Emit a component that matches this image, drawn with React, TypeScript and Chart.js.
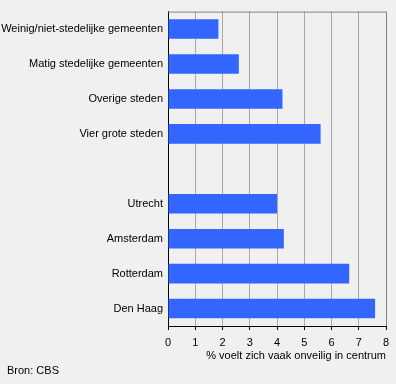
import React, { useEffect, useRef } from "react";
import { Chart, registerables } from "chart.js";

Chart.register(...registerables);

const categories: string[] = [
  "Weinig/niet-stedelijke gemeenten",
  "Matig stedelijke gemeenten",
  "Overige steden",
  "Vier grote steden",
  "",
  "Utrecht",
  "Amsterdam",
  "Rotterdam",
  "Den Haag",
];
const values: (number | null)[] = [1.85, 2.6, 4.2, 5.6, null, 4.0, 4.25, 6.65, 7.6];
const xTicks: number[] = [0, 1, 2, 3, 4, 5, 6, 7, 8];
const axisTitle = "% voelt zich vaak onveilig in centrum";
const sourceText = "Bron: CBS";

const FONT = "'Liberation Sans', Arial, sans-serif";

export default function App() {
  const ref = useRef<HTMLCanvasElement | null>(null);
  useEffect(() => {
    if (!ref.current) return;
    const framePlugin = {
      id: "frame",
      afterDatasetsDraw(chart: any) {
        const { ctx, chartArea } = chart;
        ctx.save();
        ctx.strokeStyle = "#808080";
        ctx.lineWidth = 1;
        ctx.beginPath();
        ctx.moveTo(chartArea.left, chartArea.top + 0.5);
        ctx.lineTo(chartArea.right + 0.5, chartArea.top + 0.5);
        ctx.lineTo(chartArea.right + 0.5, chartArea.bottom);
        ctx.stroke();
        ctx.restore();
      },
      afterDraw(chart: any) {
        const { ctx } = chart;
        ctx.save();
        ctx.fillStyle = "#000";
        ctx.font = `11px ${FONT}`;
        ctx.textAlign = "left";
        ctx.textBaseline = "alphabetic";
        ctx.fillText(sourceText, 7, 374);
        ctx.restore();
      },
    };
    const chart = new Chart(ref.current, {
      type: "bar",
      data: {
        labels: categories,
        datasets: [
          {
            data: values,
            backgroundColor: "#3366ff",
            borderWidth: 0,
            barPercentage: 0.56,
            categoryPercentage: 1,
          },
        ],
      },
      options: {
        indexAxis: "y",
        responsive: false,
        animation: false,
        layout: { padding: { top: 5, right: 10, left: 0, bottom: 0 } },
        plugins: {
          legend: { display: false },
          tooltip: { enabled: false },
          title: { display: false },
        },
        scales: {
          x: {
            min: 0,
            max: 8,
            afterFit(scale: any) {
              scale.height = 58;
            },
            afterBuildTicks(scale: any) {
              scale.ticks = xTicks.map((v) => ({ value: v }));
            },
            grid: {
              color: "#a8a8a8",
              tickColor: "#000",
              tickLength: 4,
              drawTicks: true,
            },
            border: { display: true, color: "#000", width: 1 },
            ticks: {
              color: "#000",
              font: { family: FONT, size: 11 },
              padding: 6,
              maxRotation: 0,
            },
            title: {
              display: true,
              text: axisTitle,
              align: "end",
              color: "#000",
              font: { family: FONT, size: 11 },
              padding: { top: 0, bottom: 21 },
            },
          },
          y: {
            afterFit(scale: any) {
              scale.width = 168;
            },
            grid: { color: "transparent", drawTicks: false },
            border: { display: true, color: "#000", width: 1 },
            ticks: {
              color: "#000",
              font: { family: FONT, size: 11 },
              padding: 5,
              autoSkip: false,
            },
          },
        },
      },
      plugins: [framePlugin],
    });
    return () => chart.destroy();
  }, []);
  return (
    <div
      style={{
        position: "absolute",
        left: 0,
        top: 0,
        width: 396,
        height: 384,
        background: "#f0f0f0",
      }}
    >
      <canvas ref={ref} width={396} height={384} style={{ display: "block" }} />
    </div>
  );
}
